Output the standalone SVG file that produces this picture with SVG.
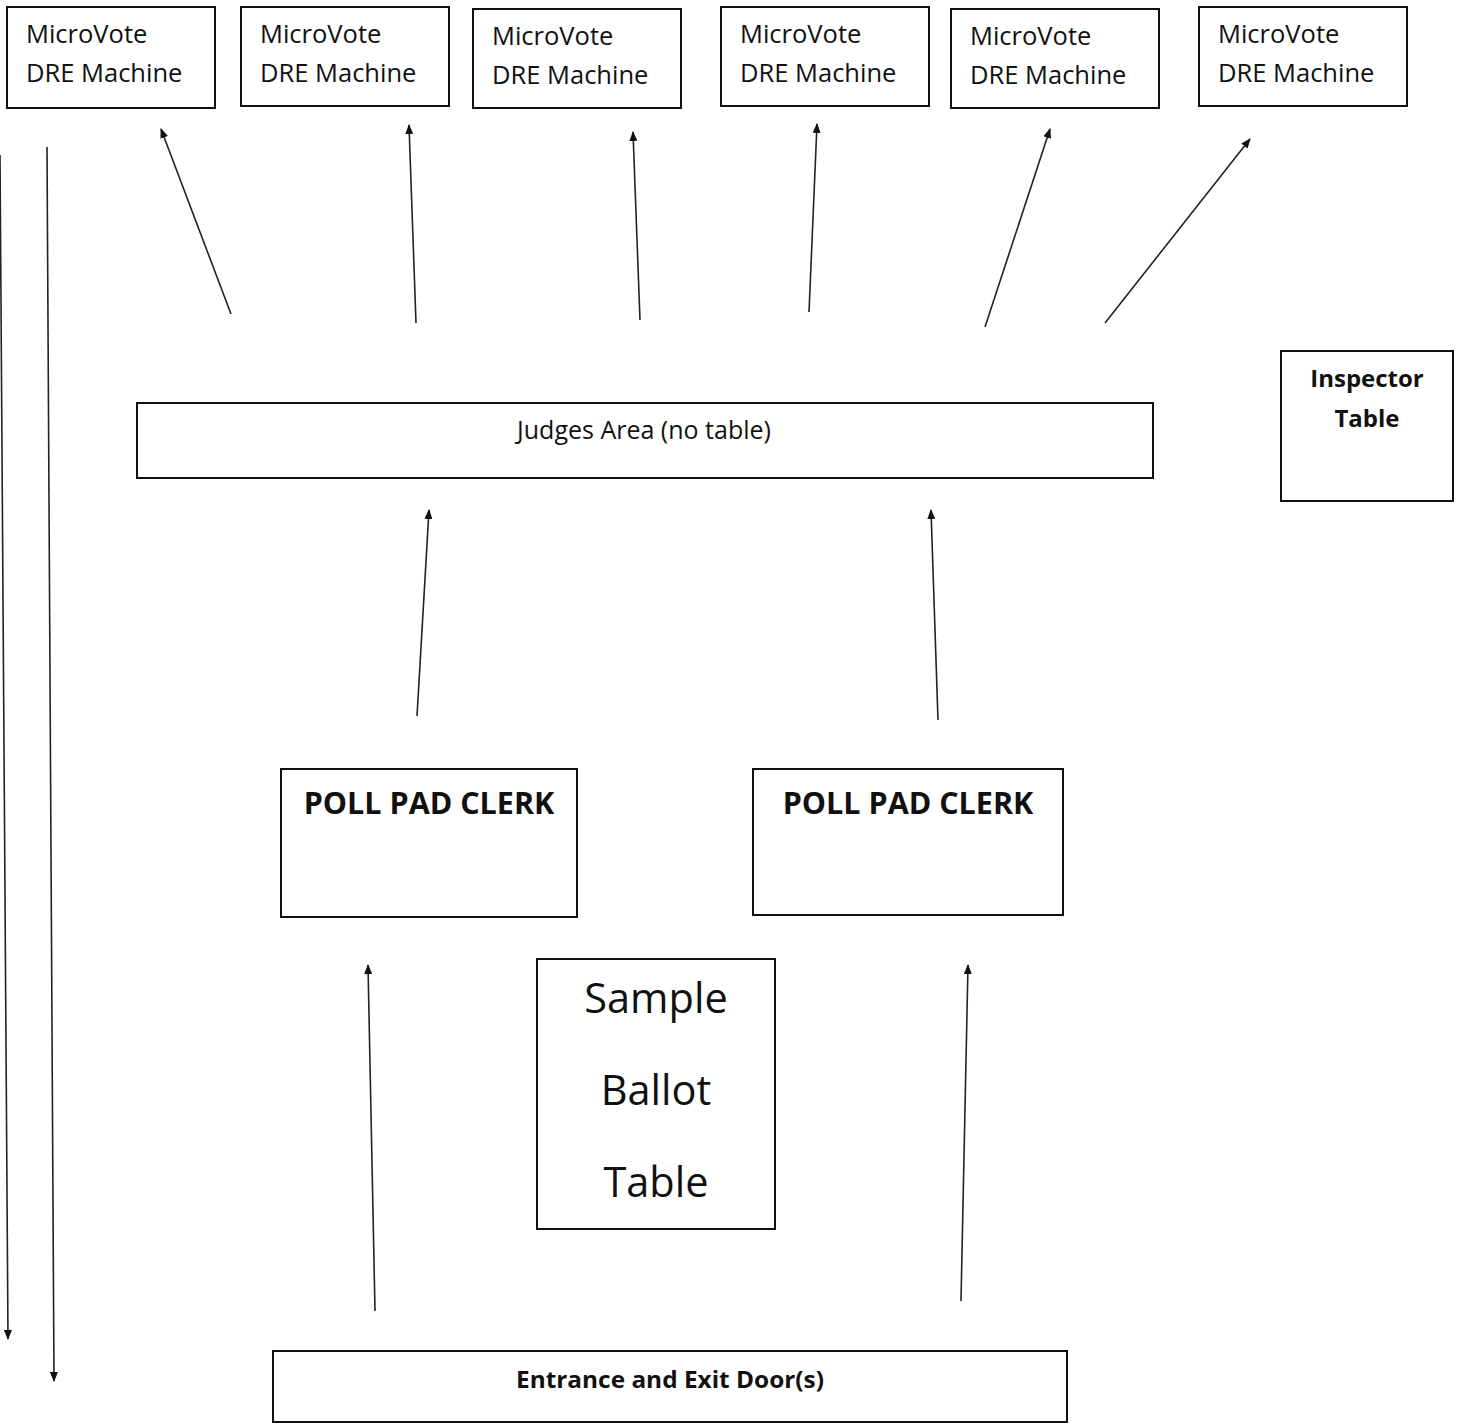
<svg xmlns="http://www.w3.org/2000/svg" width="1460" height="1424" viewBox="0 0 1460 1424">
<defs>
<marker id="ah" markerWidth="10" markerHeight="8" refX="9" refY="4" orient="auto" markerUnits="userSpaceOnUse">
<path d="M0,0 L10,4 L0,8 Z" fill="#111"/>
</marker>
<style>
.box{fill:#fff;stroke:#111;stroke-width:2}
.t{font-family:"Open Sans","Liberation Sans",sans-serif;fill:#111}
.m{font-size:25.5px}
.c{stroke:#222;stroke-width:1.6;fill:none;marker-end:url(#ah)}
</style>
</defs>
<rect width="1460" height="1424" fill="#fff"/>
<g id="dre1"><rect class="box" x="7" y="7" width="208" height="101"/><text class="t m" x="26" y="43">MicroVote</text><text class="t m" x="26" y="82">DRE Machine</text></g>
<g id="dre2"><rect class="box" x="241" y="7" width="208" height="99"/><text class="t m" x="260" y="43">MicroVote</text><text class="t m" x="260" y="82">DRE Machine</text></g>
<g id="dre3"><rect class="box" x="473" y="9" width="208" height="99"/><text class="t m" x="492" y="45">MicroVote</text><text class="t m" x="492" y="84">DRE Machine</text></g>
<g id="dre4"><rect class="box" x="721" y="7" width="208" height="99"/><text class="t m" x="740" y="43">MicroVote</text><text class="t m" x="740" y="82">DRE Machine</text></g>
<g id="dre5"><rect class="box" x="951" y="9" width="208" height="99"/><text class="t m" x="970" y="45">MicroVote</text><text class="t m" x="970" y="84">DRE Machine</text></g>
<g id="dre6"><rect class="box" x="1199" y="7" width="208" height="99"/><text class="t m" x="1218" y="43">MicroVote</text><text class="t m" x="1218" y="82">DRE Machine</text></g>
<g id="judges"><rect class="box" x="137" y="403" width="1016" height="75"/><text class="t" x="644" y="439" font-size="25" text-anchor="middle">Judges Area (no table)</text></g>
<g id="inspector"><rect class="box" x="1281" y="351" width="172" height="150"/><text class="t" x="1367" y="387" font-size="24" font-weight="bold" text-anchor="middle">Inspector</text><text class="t" x="1367" y="427" font-size="24" font-weight="bold" text-anchor="middle">Table</text></g>
<g id="clerk1"><rect class="box" x="281" y="769" width="296" height="148"/><text class="t" x="429" y="814" font-size="30.5" font-weight="bold" text-anchor="middle">POLL PAD CLERK</text></g>
<g id="clerk2"><rect class="box" x="753" y="769" width="310" height="146"/><text class="t" x="908" y="814" font-size="30.5" font-weight="bold" text-anchor="middle">POLL PAD CLERK</text></g>
<g id="sample"><rect class="box" x="537" y="959" width="238" height="270"/><text class="t" x="656" y="1013" font-size="41.5" text-anchor="middle">Sample</text><text class="t" x="656" y="1105" font-size="41.5" text-anchor="middle">Ballot</text><text class="t" x="656" y="1197" font-size="41.5" text-anchor="middle">Table</text></g>
<g id="entrance"><rect class="box" x="273" y="1351" width="794" height="71"/><text class="t" x="670" y="1388" font-size="24" font-weight="bold" text-anchor="middle" textLength="308" lengthAdjust="spacingAndGlyphs">Entrance and Exit Door(s)</text></g>
<g id="connectors">
<line class="c" x1="231" y1="314" x2="161" y2="129"/>
<line class="c" x1="416" y1="323" x2="409" y2="125"/>
<line class="c" x1="640" y1="320" x2="633" y2="132"/>
<line class="c" x1="809" y1="312" x2="817" y2="124"/>
<line class="c" x1="985" y1="327" x2="1050" y2="129"/>
<line class="c" x1="1105" y1="323" x2="1250" y2="139"/>
<line class="c" x1="417" y1="716" x2="429" y2="510"/>
<line class="c" x1="938" y1="720" x2="931" y2="510"/>
<line class="c" x1="375" y1="1311" x2="368" y2="965"/>
<line class="c" x1="961" y1="1301" x2="968" y2="965"/>
<line class="c" x1="0" y1="155" x2="8" y2="1339"/>
<line class="c" x1="47" y1="147" x2="54" y2="1381"/>
</g>
</svg>
